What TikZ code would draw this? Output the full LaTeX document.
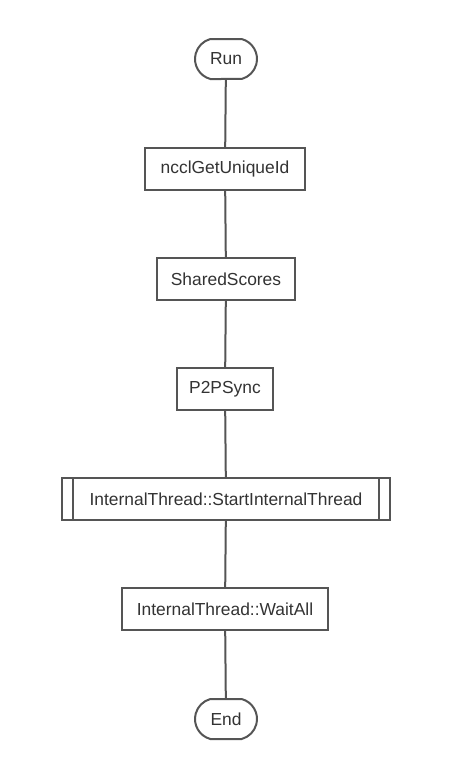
\documentclass[tikz,border=0pt]{standalone}
\usepackage{fontspec}
\setmainfont{Liberation Sans}
\usetikzlibrary{shapes.misc}
\definecolor{linec}{HTML}{555555}
\definecolor{textc}{HTML}{333333}
\tikzset{
  base/.style={draw=linec, line width=2pt, fill=white, text=textc, font=\fontsize{17.4}{20}\selectfont, inner sep=0pt},
  term/.style={base, rounded rectangle, rounded rectangle arc length=150, minimum width=62pt, minimum height=40pt},
  proc/.style={base, rectangle, minimum height=42pt},
  conn/.style={draw=linec, line width=2pt}
}
\begin{document}
\begin{tikzpicture}[x=1pt,y=-1pt]
\useasboundingbox (0,0) rectangle (475,779);
\node[term] (run) at (226,59) {Run};
\node[proc, minimum width=160pt] (nccl) at (225,169) {ncclGetUniqueId};
\node[proc, minimum width=138pt] (shared) at (226,279) {SharedScores};
\node[proc, minimum width=96pt] (p2p) at (225,389) {P2PSync};
\node[proc, minimum width=328pt] (start) at (226,499) {InternalThread::StartInternalThread};
\node[proc, minimum width=206pt] (wait) at (225,609) {InternalThread::WaitAll};
\node[term] (end) at (226,719) {End};
\draw[linec, line width=2pt] ([xshift=12pt]start.north west) -- ([xshift=12pt]start.south west);
\draw[linec, line width=2pt] ([xshift=-12pt]start.north east) -- ([xshift=-12pt]start.south east);
\draw[conn] (run) -- (nccl);
\draw[conn] (nccl) -- (shared);
\draw[conn] (shared) -- (p2p);
\draw[conn] (p2p) -- (start);
\draw[conn] (start) -- (wait);
\draw[conn] (wait) -- (end);
\end{tikzpicture}
\end{document}
